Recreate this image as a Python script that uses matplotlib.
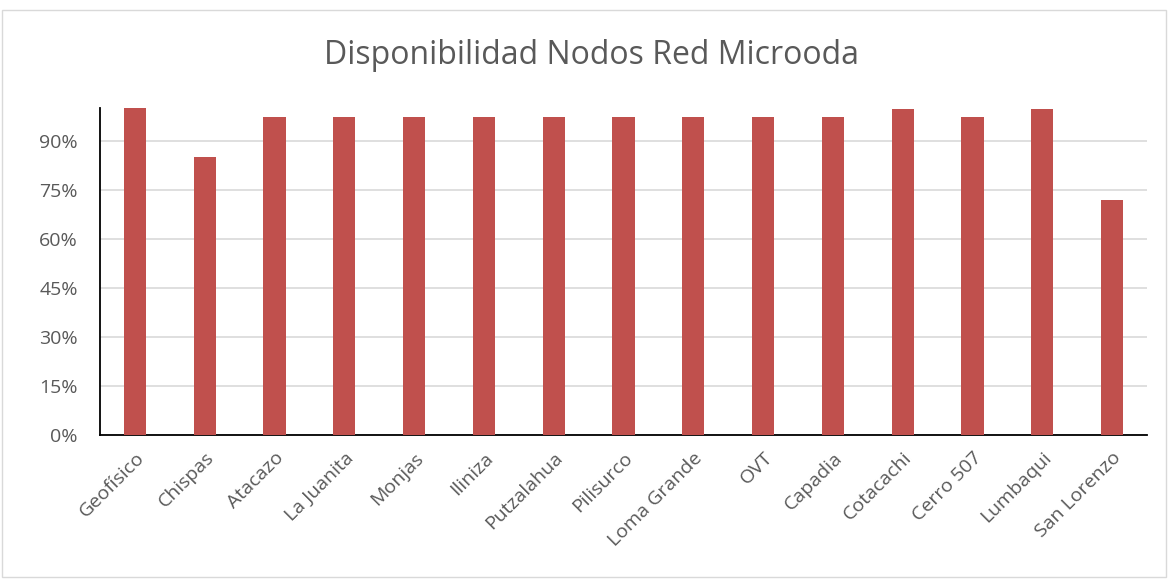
import matplotlib.pyplot as plt
from matplotlib.patches import Rectangle
from matplotlib.ticker import FuncFormatter

nodos = ['Geofísico', 'Chispas', 'Atacazo', 'La Juanita', 'Monjas', 'Iliniza',
         'Putzalahua', 'Pilisurco', 'Loma Grande', 'OVT', 'Capadia', 'Cotacachi',
         'Cerro 507', 'Lumbaqui', 'San Lorenzo']
disponibilidad = [1.00, 0.849, 0.974, 0.974, 0.972, 0.974, 0.971, 0.972, 0.972,
                  0.972, 0.974, 0.997, 0.971, 0.997, 0.719]
ticks_y = [0, 0.15, 0.30, 0.45, 0.60, 0.75, 0.90]

plt.rcParams['font.family'] = ['Open Sans', 'DejaVu Sans']
gris = '#595959'

fig = plt.figure(figsize=(11.72, 5.79), dpi=100)
ax = fig.add_axes([100 / 1172, 1 - 435 / 579, 1047 / 1172, 327 / 579])

ax.bar(range(len(nodos)), disponibilidad, width=0.32, color='#c0504d', zorder=3)
ax.set_xlim(-0.5, len(nodos) - 0.5)
ax.set_ylim(0, 1)
ax.set_yticks(ticks_y)
ax.yaxis.set_major_formatter(FuncFormatter(lambda v, p: f'{v:.0%}'))
ax.set_xticks(range(len(nodos)))
ax.set_xticklabels(nodos, rotation=45, ha='right', rotation_mode='anchor')
ax.tick_params(axis='both', length=0, labelsize=14, colors=gris)
ax.tick_params(axis='x', pad=10)
ax.tick_params(axis='y', pad=16)
ax.grid(axis='y', color='#d9d9d9', linewidth=1.2, zorder=0)
for s in ['top', 'right']:
    ax.spines[s].set_visible(False)
ax.spines['left'].set_color('black')
ax.spines['bottom'].set_color('black')
ax.spines['left'].set_linewidth(1.3)
ax.spines['bottom'].set_linewidth(1.3)

fig.text(591 / 1172, 1 - 56 / 579, 'Disponibilidad Nodos Red Microoda',
         ha='center', va='center', fontsize=23, color=gris)
fig.patches.append(Rectangle((2 / 1172, 2 / 579), 1164 / 1172, 567 / 579,
                             transform=fig.transFigure, fill=False,
                             edgecolor='#d9d9d9', linewidth=1))

plt.savefig('out.png', dpi=100)
